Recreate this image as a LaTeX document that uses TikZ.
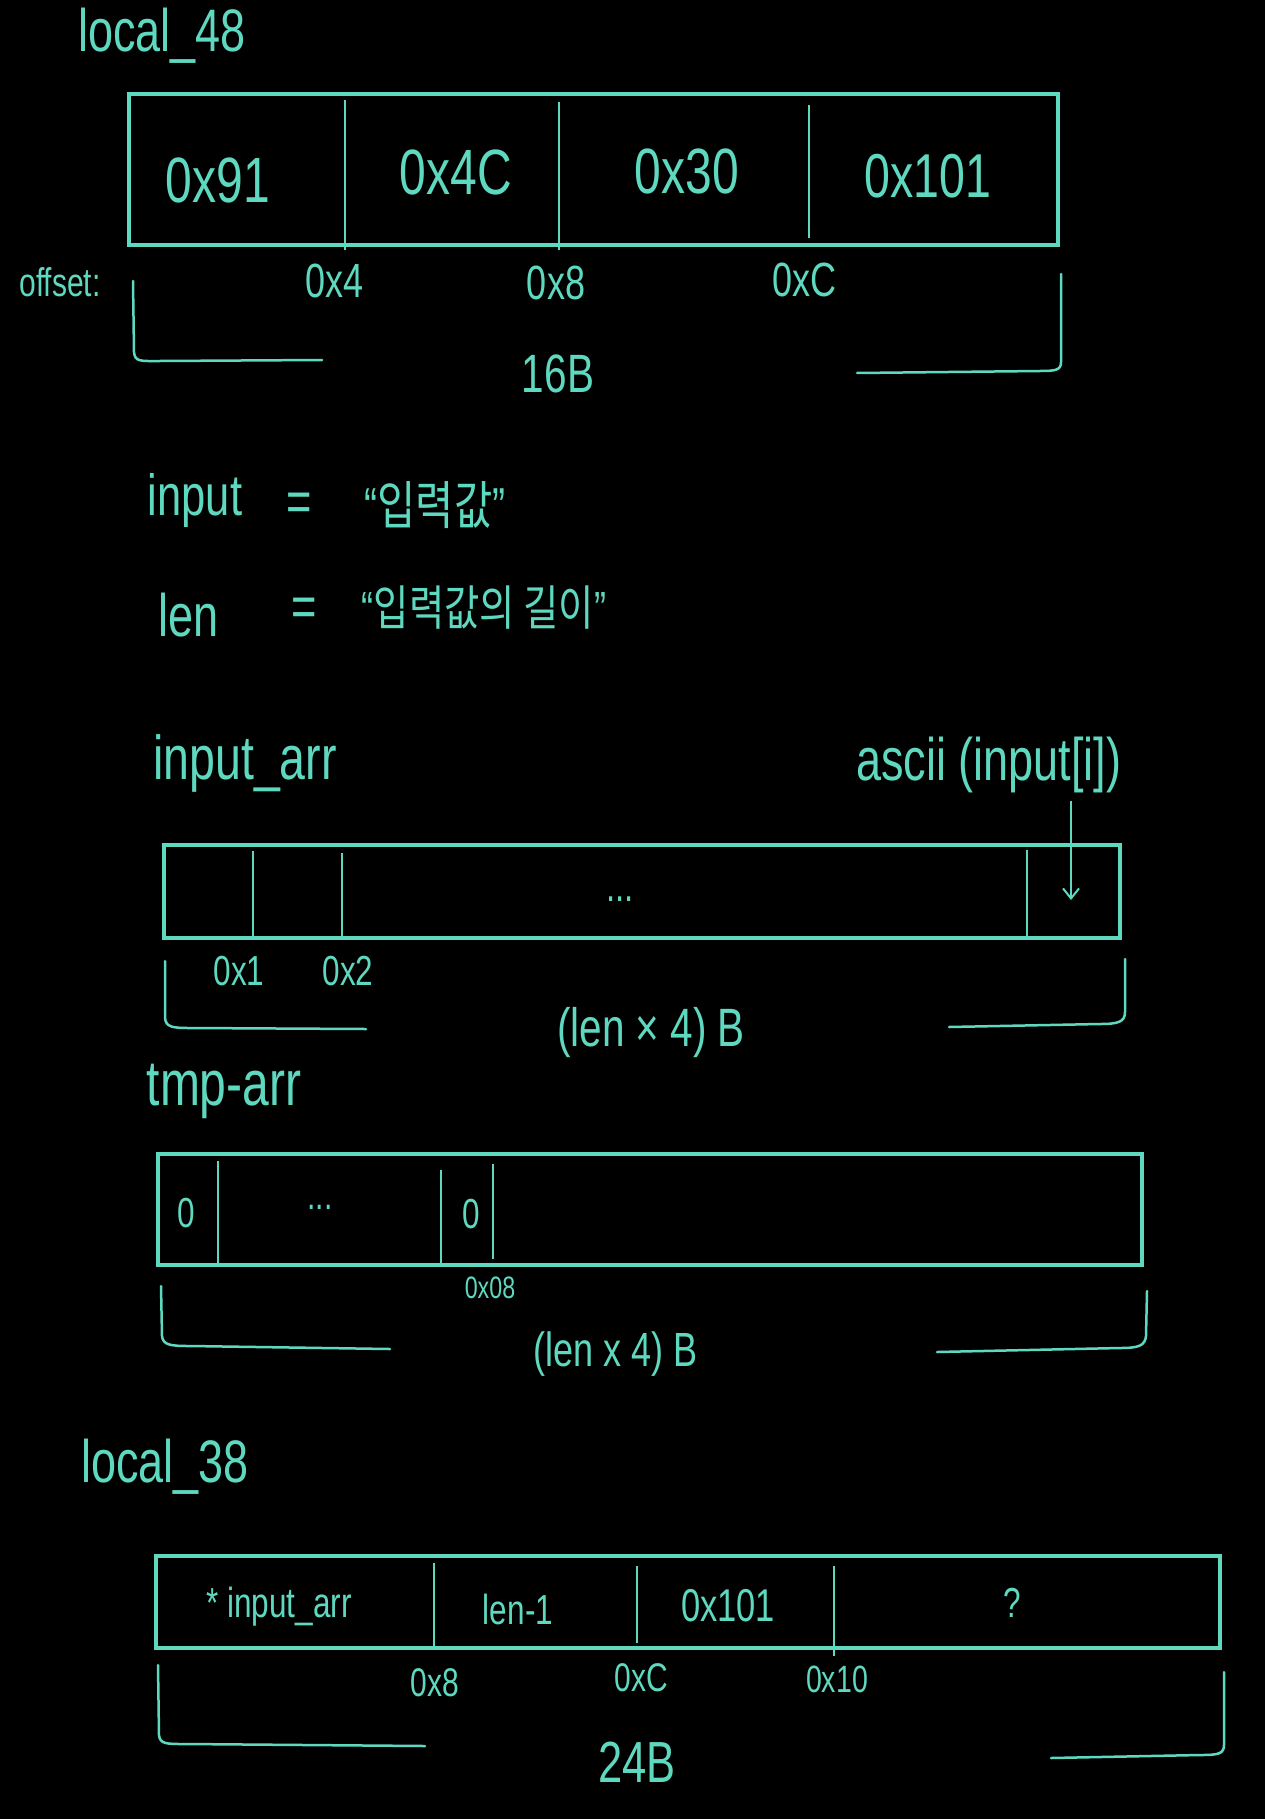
\documentclass[tikz,border=0pt]{standalone}
\usepackage{fontspec}
\setmainfont[FakeStretch=0.75]{Liberation Sans}
\newfontfamily\krfont[FakeStretch=0.8]{Noto Sans CJK KR}
\usetikzlibrary{arrows.meta}
\definecolor{chalk}{RGB}{95,216,192}
\newcommand\myfs[1]{\fontsize{#1}{#1}\selectfont}
\begin{document}
\begin{tikzpicture}[x=1pt,y=-1pt,
  lbl/.style={text=chalk, inner sep=0pt, font=\myfs{#1}}, lbl/.default=36,
  boxline/.style={draw=chalk, line width=3.5pt},
  divline/.style={draw=chalk, line width=2pt},
  brk/.style={draw=chalk, line width=2.5pt, line cap=round, line join=round},
  arr/.style={draw=chalk, line width=2pt, -{Straight Barb[length=10pt,width=16pt]}}]
\fill[black] (0,0) rectangle (1265,1819);
\useasboundingbox (0,0) rectangle (1265,1819);

% ---------------- local_48 ----------------
\node[lbl=60] (l48) at (162,36) {local\_48};
\draw[boxline] (129,94) rectangle (1058,245);
\draw[divline] (345,100) -- (345,250);
\draw[divline] (559,102) -- (559,250);
\draw[divline] (809,105) -- (809,238);
\node[lbl=64] (c1) at (218,180) {0x91};
\node[lbl=64] (c2) at (456,172) {0x4C};
\node[lbl=64] (c3) at (687,171) {0x30};
\node[lbl=62] (c4) at (928,176) {0x101};
\node[lbl=40] (off) at (60,282) {offset:};
\node[lbl=48] (o1) at (335,281) {0x4};
\node[lbl=48] (o2) at (556,283) {0x8};
\node[lbl=48] (o3) at (804,280) {0xC};
\draw[brk] (133,281) -- (134,352) .. controls (135,362) and (140,361) .. (160,361) -- (322,360);
\draw[brk] (1061,274) -- (1061,362) .. controls (1061,370) and (1056,371) .. (1040,371) -- (857,373);
\node[lbl=54] (s1) at (558,374) {16B};

% ---------------- input / len ----------------
\node[lbl=58] (inp) at (195,501) {input};
\node[lbl=58] (eq1) at (299,507) {=};
\node[lbl=52] (inpv) at (435,505) {“{\krfont 입력값}”};
\node[lbl=60] (len) at (189,615) {len};
\node[lbl=58] (eq2) at (304,612) {=};
\node[lbl=48] (lenv) at (484,608) {“{\krfont 입력값의 길이}”};

% ---------------- input_arr ----------------
\node[lbl=62] (iarr) at (245,763) {input\_arr};
\node[lbl=60] (ascii) at (989,765) {ascii (input[i])};
\draw[boxline] (164,845) rectangle (1120,938);
\draw[divline] (253,851) -- (253,936);
\draw[divline] (342,853) -- (342,938);
\draw[divline] (1027,850) -- (1027,938);
\coordinate (arrtip) at (1071,900);
\draw[arr] ([yshift=-8pt]ascii.south -| arrtip) -- (arrtip);
\node[lbl=44] (d1) at (620,899) {...};
\node[lbl=42] (a1) at (239,971) {0x1};
\node[lbl=42] (a2) at (348,971) {0x2};
\draw[brk] (165,961) -- (165,1018) .. controls (166,1027) and (172,1028) .. (190,1028) -- (366,1029);
\draw[brk] (1125,959) -- (1125,1012) .. controls (1125,1022) and (1118,1024) .. (1100,1024) -- (949,1027);
\node[lbl=54] (s2) at (651,1033) {(len × 4) B};

% ---------------- tmp-arr ----------------
\node[lbl=64] (tarr) at (224,1091) {tmp-arr};
\draw[boxline] (158,1154) rectangle (1142,1265);
\draw[divline] (218,1161) -- (218,1267);
\draw[divline] (441,1170) -- (441,1265);
\draw[divline] (493,1164) -- (493,1259);
\node[lbl=42] (z1) at (186,1213) {0};
\node[lbl=40] (d2) at (320,1207) {...};
\node[lbl=42] (z2) at (471,1214) {0};
\node[lbl=31] (t1) at (490,1288) {0x08};
\draw[brk] (161,1286) -- (162,1336) .. controls (163,1345) and (170,1346) .. (190,1346) -- (390,1349);
\draw[brk] (1147,1291) -- (1146,1336) .. controls (1145,1346) and (1138,1348) .. (1120,1348) -- (937,1352);
\node[lbl=48] (s3) at (616,1354) {(len x 4) B};

% ---------------- local_38 ----------------
\node[lbl=60] (l38) at (165,1467) {local\_38};
\draw[boxline] (156,1556) rectangle (1220,1648);
\draw[divline] (434,1563) -- (434,1648);
\draw[divline] (637,1566) -- (637,1643);
\draw[divline] (834,1566) -- (834,1656);
\node[lbl=42] (e1) at (279,1607) {* input\_arr};
\node[lbl=42] (e2) at (518,1609) {len-1};
\node[lbl=46] (e3) at (728,1606) {0x101};
\node[lbl=42] (e4) at (1012,1603) {?};
\node[lbl=40] (p1) at (435,1683) {0x8};
\node[lbl=40] (p2) at (641,1678) {0xC};
\node[lbl=38] (p3) at (837,1679) {0x10};
\draw[brk] (158,1665) -- (159,1735) .. controls (160,1744) and (166,1744) .. (185,1744) -- (425,1746);
\draw[brk] (1224,1672) -- (1224,1745) .. controls (1224,1754) and (1218,1755) .. (1200,1755) -- (1051,1758);
\node[lbl=58] (s4) at (637,1762) {24B};
\end{tikzpicture}
\end{document}
